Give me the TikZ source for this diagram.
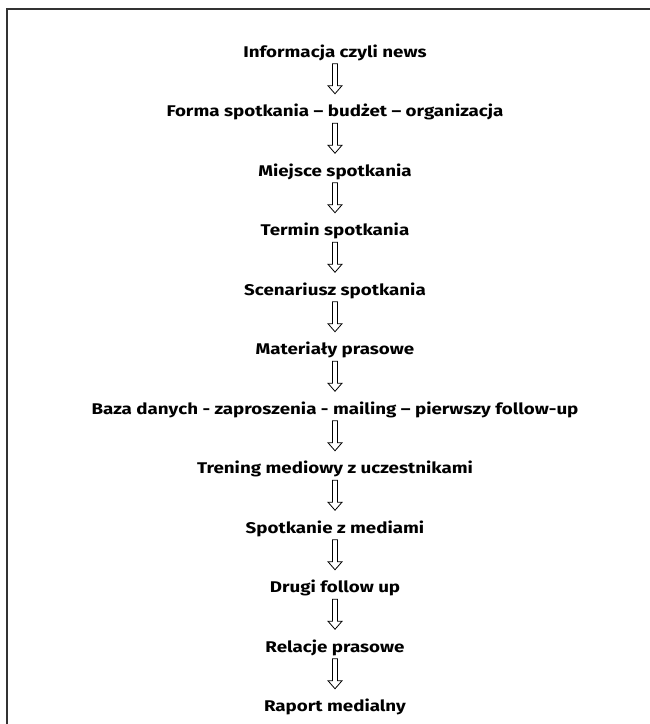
\documentclass[tikz,border=0pt]{standalone}
\usepackage{fontspec}
\setmainfont{Fira Sans}[FakeStretch=1.21]
\usetikzlibrary{trees}

\begin{document}
\begin{tikzpicture}[
		level distance=59.5pt,
		parent anchor=south,child anchor=north,
		edge from parent/.style={},
		edge from parent path={(\tikzparentnode\tikzparentanchor) -- pic[pos=0.4]{hollow arrow} (\tikzchildnode\tikzchildanchor)},
		hollow arrow/.pic={\draw[line width=0.8pt,line join=miter] (-2.5pt,15pt) -- (2.5pt,15pt) -- (2.5pt,-7pt) -- (7pt,-7pt) -- (0,-15pt) -- (-7pt,-7pt) -- (-2.5pt,-7pt) -- cycle;},
		stage/.style={font=\bfseries\fontsize{15.5}{19}\selectfont,inner sep=0pt,text height=12pt,text depth=4pt},
		every child node/.style={stage},
		frame/.style={draw=black!80,line width=1.5pt}
		]
		\useasboundingbox (0,0) rectangle (650pt,-724pt);
		\draw[frame] (7pt,-724pt) |- (650pt,-9pt);
		\node[stage] (info) at (335pt,-53.3pt) {Informacja czyli news}
		child {node (forma) {Forma spotkania – budżet – organizacja}
		child {node (miejsce) {Miejsce spotkania}
		child {node (termin) {Termin spotkania}
		child {node (scenariusz) {Scenariusz spotkania}
		child {node (materialy) {Materiały prasowe}
		child {node (baza) {Baza danych - zaproszenia - mailing – pierwszy follow-up}
		child {node (trening) {Trening mediowy z uczestnikami}
		child {node (spotkanie) {Spotkanie z mediami}
		child {node (drugi) {Drugi follow up}
		child {node (relacje) {Relacje prasowe}
		child {node (raport) {Raport medialny}
		}}}}}}}}}}};
	\end{tikzpicture}
\end{document}
